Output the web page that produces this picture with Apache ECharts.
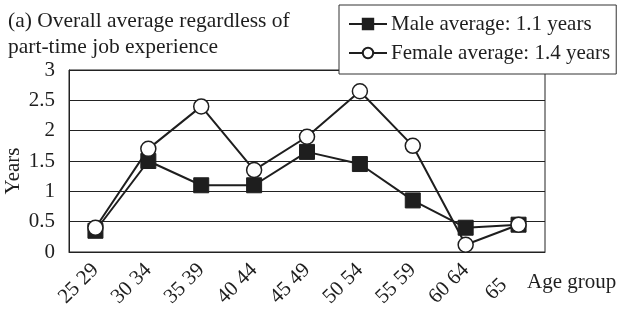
<!DOCTYPE html>
<html>
<head>
<meta charset="utf-8">
<script src="https://cdn.jsdelivr.net/npm/echarts@6/dist/echarts.min.js"></script>
<style>
  html, body { margin: 0; padding: 0; background: #fff; }
  #chart { width: 620px; height: 309px; }
</style>
</head>
<body>
<div id="chart"></div>
<script>
// age groups (the dash glyph is missing in the original, shown as blank)
var ageGroups = ['25 29', '30 34', '35 39', '40 44', '45 49', '50 54', '55 59', '60 64', '65\u2002\u2002'];
var maleAvg = [0.35, 1.5, 1.1, 1.1, 1.65, 1.45, 0.85, 0.4, 0.45];
var femaleAvg = [0.4, 1.7, 2.4, 1.35, 1.9, 2.65, 1.75, 0.12, 0.45];

var FONT = "'Liberation Serif', 'Times New Roman', serif";
var INK = '#1e1e1e';

var myChart = echarts.init(document.getElementById('chart'));

var option = {
    animation: false,
    backgroundColor: '#fff',
    textStyle: { fontFamily: FONT, color: INK },
    title: {
        text: '(a) Overall average regardless of\npart-time job experience',
        left: 3,
        top: 3,
        textStyle: { fontFamily: FONT, fontSize: 21.5, fontWeight: 'normal', color: INK, lineHeight: 26 }
    },
    legend: {
        orient: 'vertical',
        left: 339,
        top: 5,
        padding: [8, 6, 10, 9],
        itemGap: 7,
        itemWidth: 38,
        itemHeight: 13,
        borderColor: '#333',
        borderWidth: 1,
        backgroundColor: '#fff',
        z: 10,
        textStyle: { fontFamily: FONT, fontSize: 21, color: INK, lineHeight: 22, padding: [0, 0, 0, -1] },
        data: ['Male average: 1.1 years', 'Female average: 1.4 years']
    },
    grid: {
        left: 69,
        right: 75,
        top: 70,
        bottom: 57,
        containLabel: false,
        outerBoundsMode: 'none',
        show: true,
        borderColor: '#222',
        borderWidth: 1,
        backgroundColor: 'transparent'
    },
    xAxis: {
        type: 'category',
        data: ageGroups,
        axisLine: { lineStyle: { color: '#222', width: 1 } },
        axisTick: { inside: true, length: 10, lineStyle: { color: '#222' } },
        axisLabel: {
            rotate: 45,
            interval: 0,
            margin: 15,
            fontFamily: FONT,
            fontSize: 21,
            color: INK
        },
        splitLine: { show: false }
    },
    yAxis: {
        type: 'value',
        min: 0,
        max: 3,
        interval: 0.5,
        name: 'Years',
        nameLocation: 'middle',
        nameGap: 45,
        nameMoveOverlap: false,
        nameTextStyle: { fontFamily: FONT, fontSize: 21, color: INK, padding: [0, 20, 0, 0] },
        axisLine: { show: true, lineStyle: { color: '#222' } },
        axisTick: { show: false },
        axisLabel: {
            margin: 14,
            fontFamily: FONT,
            fontSize: 21,
            color: INK
        },
        splitLine: { lineStyle: { color: '#222', width: 1 } }
    },
    graphic: [{
        type: 'text',
        left: 527,
        top: 272,
        style: { text: 'Age group', font: '21px ' + FONT, fill: INK }
    }],
    series: [{
        name: 'Male average: 1.1 years',
        type: 'line',
        data: maleAvg,
        symbol: 'rect',
        symbolSize: 15,
        lineStyle: { color: INK, width: 2 },
        itemStyle: { color: INK, borderColor: INK, borderWidth: 1 }
    }, {
        name: 'Female average: 1.4 years',
        type: 'line',
        data: femaleAvg,
        symbol: 'circle',
        symbolSize: 15,
        showAllSymbol: true,
        lineStyle: { color: INK, width: 2 },
        itemStyle: { color: '#fff', borderColor: INK, borderWidth: 1.5 }
    }]
};

myChart.setOption(option);
</script>
</body>
</html>
